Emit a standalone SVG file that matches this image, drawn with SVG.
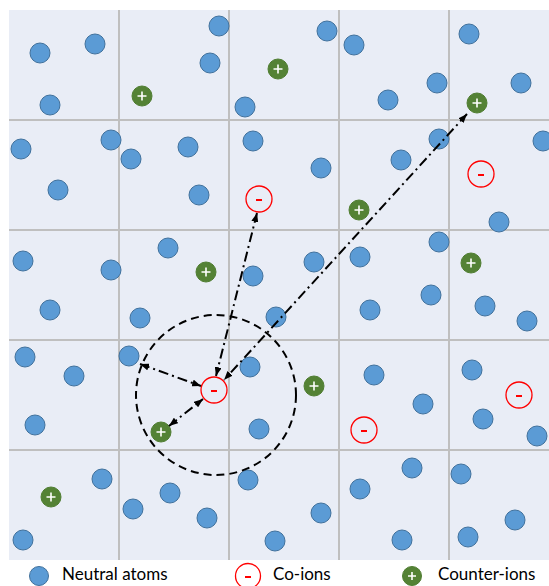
<svg xmlns="http://www.w3.org/2000/svg" xmlns:xlink="http://www.w3.org/1999/xlink" width="549" height="586" viewBox="0 0 549 586">
<style>
.bg{fill:#E9EDF6}
.grid{stroke:#BFBFBF;stroke-width:2;fill:none}
.blue{fill:#5B9BD5;stroke:#41719C;stroke-width:1}
.green{fill:#548235;stroke:#507E32;stroke-width:1}
.red{fill:none;stroke:#FF0000;stroke-width:1.3}
.plus{stroke:#FFFFFF;stroke-width:1.6;fill:none}
.minus{stroke:#FF0000;stroke-width:2;fill:none}
.conn{stroke:#000;stroke-width:2;fill:none;stroke-dasharray:10 4 2 4;marker-start:url(#ah);marker-end:url(#ah)}
.sphere{stroke:#000;stroke-width:2;fill:none;stroke-dasharray:8 5}
.lbl{font-family:Lato,"Liberation Sans",sans-serif;font-size:17px;fill:#000}
</style>
<defs>
<marker id="ah" markerUnits="userSpaceOnUse" markerWidth="9" markerHeight="7" refX="9" refY="3.5" orient="auto-start-reverse"><path d="M0,0 L9,3.5 L0,7 z" fill="#000"/></marker>
<g id="nB"><circle class="blue" r="10"/></g>
<g id="nG"><circle class="green" r="10"/><path class="plus" d="M-4.5,0 H4.5 M0,-4.5 V4.5"/></g>
<g id="nR"><circle class="red" r="13"/><path class="minus" d="M-3,1 H3"/></g>
</defs>
<rect class="bg" x="9" y="10" width="550" height="550"/>
<g id="grid" class="grid">
<path d="M119,10 V560 M229,10 V560 M339,10 V560 M449,10 V560 M9,120 H559 M9,230 H559 M9,340 H559 M9,450 H559"/>
</g>
<g id="neutral-atoms">
<use id="b1" href="#nB" x="40" y="53"/><use id="b2" href="#nB" x="95" y="44"/><use id="b3" href="#nB" x="219" y="26"/><use id="b4" href="#nB" x="210" y="63"/>
<use id="b5" href="#nB" x="50" y="105"/><use id="b6" href="#nB" x="245" y="107"/><use id="b7" href="#nB" x="327" y="31"/><use id="b8" href="#nB" x="354" y="45"/>
<use id="b9" href="#nB" x="469" y="34"/><use id="b10" href="#nB" x="437" y="83"/><use id="b11" href="#nB" x="521" y="83"/><use id="b12" href="#nB" x="388" y="100"/>
<use id="b13" href="#nB" x="21" y="149"/><use id="b14" href="#nB" x="111" y="140"/><use id="b15" href="#nB" x="131" y="159"/><use id="b16" href="#nB" x="188" y="147"/>
<use id="b17" href="#nB" x="253" y="141"/><use id="b18" href="#nB" x="58" y="190"/><use id="b19" href="#nB" x="199" y="195"/><use id="b20" href="#nB" x="439" y="139"/>
<use id="b21" href="#nB" x="543" y="141"/><use id="b22" href="#nB" x="401" y="160"/><use id="b23" href="#nB" x="321" y="168"/><use id="b24" href="#nB" x="499" y="222"/>
<use id="b25" href="#nB" x="23" y="261"/><use id="b26" href="#nB" x="111" y="270"/><use id="b27" href="#nB" x="168" y="248"/><use id="b28" href="#nB" x="253" y="276"/>
<use id="b29" href="#nB" x="360" y="257"/><use id="b30" href="#nB" x="314" y="262"/><use id="b31" href="#nB" x="439" y="242"/>
<use id="b32" href="#nB" x="50" y="310"/><use id="b33" href="#nB" x="140" y="318"/><use id="b34" href="#nB" x="276" y="317"/><use id="b35" href="#nB" x="370" y="310"/>
<use id="b36" href="#nB" x="431" y="295"/><use id="b37" href="#nB" x="485" y="306"/><use id="b38" href="#nB" x="527" y="321"/>
<use id="b39" href="#nB" x="25" y="357"/><use id="b40" href="#nB" x="74" y="376"/><use id="b41" href="#nB" x="129" y="356"/><use id="b42" href="#nB" x="250" y="367"/>
<use id="b43" href="#nB" x="35" y="425"/><use id="b44" href="#nB" x="259" y="429"/><use id="b45" href="#nB" x="374" y="375"/><use id="b46" href="#nB" x="423" y="404"/>
<use id="b47" href="#nB" x="472" y="370"/><use id="b48" href="#nB" x="483" y="419"/><use id="b49" href="#nB" x="537" y="436"/>
<use id="b50" href="#nB" x="102" y="479"/><use id="b51" href="#nB" x="170" y="493"/><use id="b52" href="#nB" x="133" y="509"/><use id="b53" href="#nB" x="207" y="518"/>
<use id="b54" href="#nB" x="248" y="480"/><use id="b55" href="#nB" x="23" y="540"/><use id="b56" href="#nB" x="275" y="541"/><use id="b57" href="#nB" x="321" y="513"/>
<use id="b58" href="#nB" x="412" y="468"/><use id="b59" href="#nB" x="360" y="489"/><use id="b60" href="#nB" x="402" y="540"/><use id="b61" href="#nB" x="461" y="474"/>
<use id="b62" href="#nB" x="515" y="520"/><use id="b63" href="#nB" x="468" y="537"/>
</g>
<g id="counter-ions">
<use id="g1" href="#nG" x="142" y="96"/><use id="g2" href="#nG" x="278" y="69"/><use id="g3" href="#nG" x="477" y="103"/>
<use id="g4" href="#nG" x="359" y="210"/><use id="g5" href="#nG" x="206" y="272"/><use id="g6" href="#nG" x="471" y="263"/>
<use id="g7" href="#nG" x="314" y="386"/><use id="g8" href="#nG" x="161" y="432"/><use id="g9" href="#nG" x="51" y="497"/>
</g>
<g id="co-ions">
<use id="r1" href="#nR" x="259" y="199"/><use id="r2" href="#nR" x="481" y="174"/><use id="r3" href="#nR" x="214" y="390"/>
<use id="r4" href="#nR" x="364" y="430"/><use id="r5" href="#nR" x="519" y="395"/>
</g>
<g id="cutoff-sphere">
<circle class="sphere" cx="216" cy="395" r="80"/>
</g>
<g id="connectors">
<path class="conn" d="M257,213 L216,376"/>
<path class="conn" d="M467,114 L224,380"/>
<path class="conn" d="M140,364 L201,386"/>
<path class="conn" d="M169,426 L203,399"/>
</g>
<g id="legend">
<circle class="blue" cx="39" cy="576" r="9.5"/>
<text class="lbl" x="62" y="580">Neutral atoms</text>
<g transform="translate(248,576)"><circle class="red" r="12.5"/><path class="minus" d="M-3,1 H3"/></g>
<text class="lbl" x="273" y="580">Co-ions</text>
<g transform="translate(412,576)"><circle class="green" r="9.5"/><path class="plus" d="M-4,0 H4 M0,-4 V4"/></g>
<text class="lbl" x="438" y="580">Counter-ions</text>
</g>
</svg>
